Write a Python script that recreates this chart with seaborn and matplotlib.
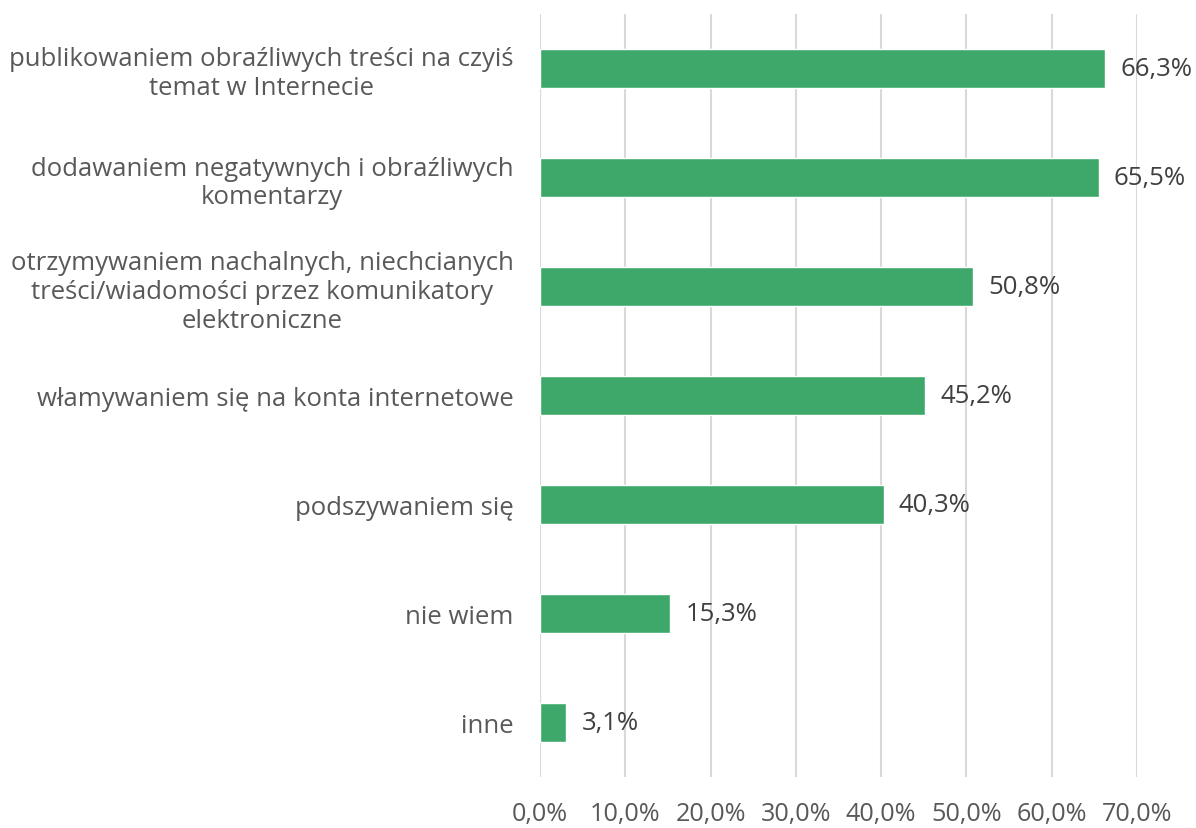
import matplotlib
matplotlib.use("Agg")
import matplotlib.pyplot as plt
import seaborn as sns
import pandas as pd

categories = [
    "publikowaniem obraźliwych treści na czyiś\ntemat w Internecie",
    "dodawaniem negatywnych i obraźliwych\nkomentarzy",
    "otrzymywaniem nachalnych, niechcianych\ntreści/wiadomości przez komunikatory\nelektroniczne",
    "włamywaniem się na konta internetowe",
    "podszywaniem się",
    "nie wiem",
    "inne",
]
values = [66.3, 65.5, 50.8, 45.2, 40.3, 15.3, 3.1]
xticks = [0, 10, 20, 30, 40, 50, 60, 70]

sns.set_theme(style="white")
plt.rcParams['font.family'] = ['Open Sans', 'DejaVu Sans']

df = pd.DataFrame({"cat": categories, "val": values})

fig = plt.figure(figsize=(11.96, 8.29), dpi=100)
ax = fig.add_axes([540/1196, 1 - 778/829, (1137-540)/1196, (778-15)/829])

sns.barplot(data=df, x="val", y="cat", color="#3EA86B", width=0.35,
            saturation=1, ax=ax, zorder=3)

ax.set_xlim(0, 70)
ax.set_ylim(6.5, -0.5)
ax.set_xticks(xticks)
ax.set_xticklabels([f"{t:.1f}%".replace(".", ",") for t in xticks],
                   fontsize=18.2, color="#595959")
ax.tick_params(axis="x", length=0, pad=17)
ax.tick_params(axis="y", length=0, pad=19, labelsize=18.5, labelcolor="#595959")
for lbl in ax.get_yticklabels():
    lbl.set_horizontalalignment("right")
    lbl.set_multialignment("center")
ax.set_xlabel("")
ax.set_ylabel("")
ax.grid(axis="x", color="#D9D9D9", linewidth=1.5, zorder=0)
ax.grid(axis="y", visible=False)
for s in ax.spines.values():
    s.set_visible(False)
ax.axvline(0, color="#D9D9D9", linewidth=1.5, zorder=1)

for i, v in enumerate(values):
    ax.annotate(f"{v:.1f}%".replace(".", ","), xy=(v, i), xytext=(11, 0),
                textcoords="offset points", va="center", ha="left",
                fontsize=18.5, color="#404040")

fig.savefig("out.png", dpi=100)
